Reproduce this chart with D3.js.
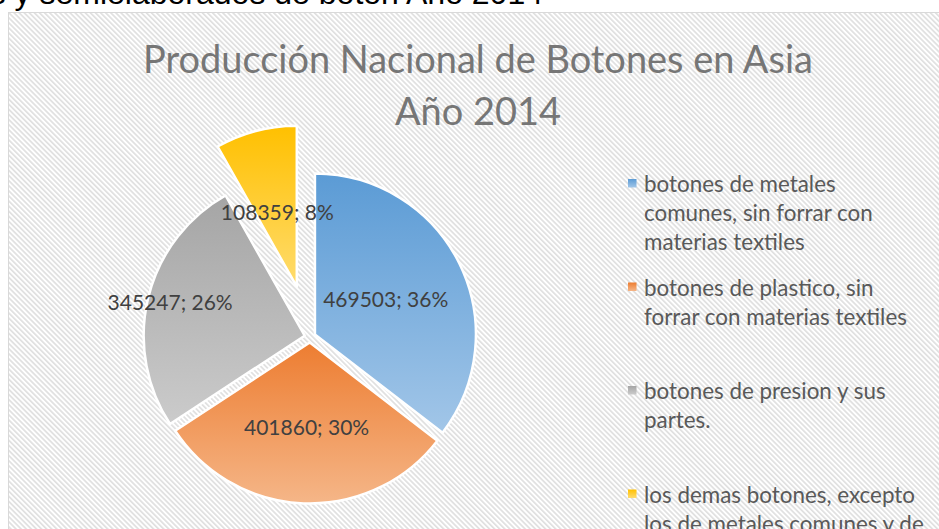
<!DOCTYPE html>
<html>
<head>
<meta charset="utf-8">
<script src="https://cdn.jsdelivr.net/npm/d3@7"></script>
<style>
  html, body { margin: 0; padding: 0; background: #ffffff; overflow: hidden; }
  svg { display: block; }
</style>
</head>
<body>
<svg id="chart" width="939" height="529"></svg>
<script>
// ---- Data ----
const pageHeading = "s y semielaborados de botón Año 2014";
const titleLines = ["Producción Nacional de Botones en Asia", "Año 2014"];
const categories = [
  "botones de metales comunes, sin forrar con materias textiles",
  "botones de plastico, sin forrar con materias textiles",
  "botones de presion y sus partes.",
  "los demas botones, excepto los de metales comunes y de plastico"
];
const values = [469503, 401860, 345247, 108359];
const percentLabels = ["36%", "30%", "26%", "8%"];

// ---- Styles ----
const topColors = ["#5b9bd5", "#ed7d31", "#a5a5a5", "#ffc000"];
const bottomColors = ["#a2c6e8", "#f5b688", "#cbcbcb", "#ffdc6e"];
const explode = [5.5, 5.5, 5.5, 52];
const labelFrac = [0.49, 0.53, 0.86, 0.475];

const W = 939, H = 529;
const svg = d3.select("#chart");
const defs = svg.append("defs");

// hatch pattern
const pat = defs.append("pattern")
  .attr("id", "hatch")
  .attr("patternUnits", "userSpaceOnUse")
  .attr("width", 3.6).attr("height", 3.6)
  .attr("patternTransform", "rotate(-45)");
pat.append("rect").attr("width", 3.6).attr("height", 3.6).attr("fill", "#ffffff");
pat.append("rect").attr("width", 1.7).attr("height", 3.6).attr("fill", "#e0e0e0");

topColors.forEach((c, i) => {
  const g = defs.append("linearGradient").attr("id", "grad" + i)
    .attr("x1", 0).attr("y1", 0).attr("x2", 0).attr("y2", 1);
  g.append("stop").attr("offset", "0%").attr("stop-color", c);
  g.append("stop").attr("offset", "100%").attr("stop-color", bottomColors[i]);
});

// heading text above chart
svg.append("text")
  .attr("x", 543).attr("y", 4)
  .attr("text-anchor", "end")
  .attr("font-family", "Liberation Sans, Arial, sans-serif")
  .attr("font-size", 32)
  .attr("fill", "#000")
  .text(pageHeading);

// chart area
svg.append("rect")
  .attr("x", 8.5).attr("y", 12.5)
  .attr("width", 1000).attr("height", 1000)
  .attr("fill", "url(#hatch)")
  .attr("stroke", "#d9d9d9").attr("stroke-width", 1);

// title
const titleG = svg.append("g");
const t1 = titleG.append("text")
  .attr("x", 478).attr("y", 73)
  .attr("text-anchor", "middle")
  .attr("font-family", "Lato, Carlito, Calibri, sans-serif")
  .attr("font-size", 40)
  .attr("fill", "#767676")
  .text(titleLines[0]);
const len = t1.node().getComputedTextLength();
const titleSize = 40 * 670 / len;
t1.attr("font-size", titleSize);
titleG.append("text")
  .attr("x", 478).attr("y", 125)
  .attr("text-anchor", "middle")
  .attr("font-family", "Lato, Carlito, Calibri, sans-serif")
  .attr("font-size", titleSize)
  .attr("fill", "#767676")
  .text(titleLines[1]);

// pie
const cx = 310, cy = 337, R = 161;
const pie = d3.pie().sort(null).value(d => d);
const arcs = pie(values);
const arc = d3.arc().innerRadius(0).outerRadius(R);

const pieG = svg.append("g").attr("transform", `translate(${cx},${cy})`);
const sliceG = pieG.selectAll("g.slice").data(arcs).enter().append("g")
  .attr("class", "slice")
  .attr("transform", (d, i) => {
    const a = (d.startAngle + d.endAngle) / 2;
    return `translate(${Math.sin(a) * explode[i]},${-Math.cos(a) * explode[i]})`;
  });
sliceG.append("path")
  .attr("d", arc)
  .attr("fill", (d, i) => `url(#grad${i})`)
  .attr("stroke", "#ffffff")
  .attr("stroke-width", 2.5)
  .attr("stroke-linejoin", "round");

sliceG.append("text")
  .attr("transform", (d, i) => {
    const r = R * labelFrac[i];
    const c = d3.arc().innerRadius(r).outerRadius(r).centroid(d);
    return `translate(${c[0]},${c[1]})`;
  })
  .attr("text-anchor", "middle")
  .attr("dy", "0.35em")
  .attr("font-family", "Lato, Carlito, Calibri, sans-serif")
  .attr("font-size", 21)
  .attr("fill", "#404040")
  .text((d, i) => `${values[i]}; ${percentLabels[i]}`);

// legend
const legX = 628, textX = 644, firstBase = 192, step = 103.5, lineH = 29, maxW = 285;
const legG = svg.append("g");
categories.forEach((name, i) => {
  const base = firstBase + i * step;
  legG.append("rect")
    .attr("x", legX).attr("y", base - 13)
    .attr("width", 8.5).attr("height", 8.5)
    .attr("fill", `url(#grad${i})`);
  const txt = legG.append("text")
    .attr("font-family", "Lato, Carlito, Calibri, sans-serif")
    .attr("font-size", 22.4)
    .attr("fill", "#595959");
  const words = name.split(" ");
  let line = [];
  let lineNo = 0;
  let tspan = txt.append("tspan").attr("x", textX).attr("y", base);
  words.forEach(w => {
    line.push(w);
    tspan.text(line.join(" "));
    if (tspan.node().getComputedTextLength() > maxW && line.length > 1) {
      line.pop();
      tspan.text(line.join(" "));
      line = [w];
      lineNo++;
      tspan = txt.append("tspan").attr("x", textX).attr("y", base + lineNo * lineH).text(w);
    }
  });
});
</script>
</body>
</html>
